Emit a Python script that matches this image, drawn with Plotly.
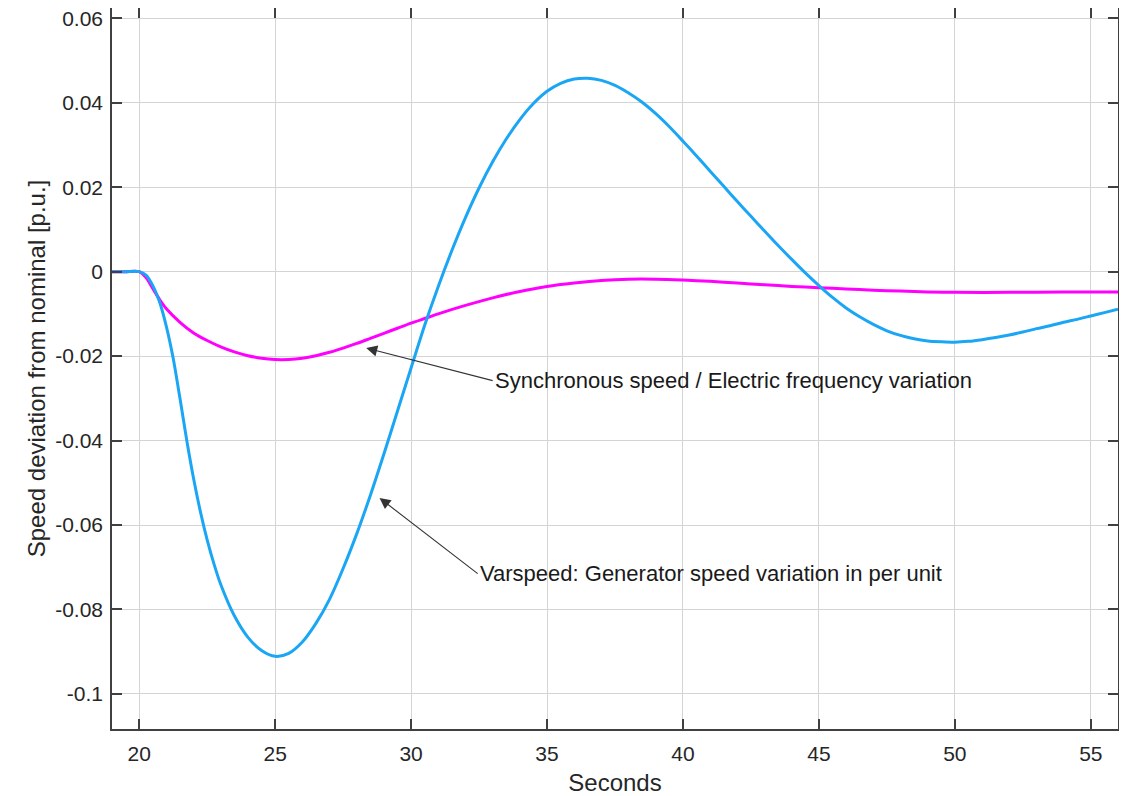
import plotly.graph_objects as go

# Varspeed: generator speed variation (p.u.)
t_gen = [19, 19.5, 20, 20.25, 20.5, 20.75, 21, 21.25, 21.5, 21.75, 22, 22.25, 22.5, 22.75,
         23, 23.5, 24, 24.5, 25, 25.5, 26, 26.5, 27, 27.5, 28, 28.5, 29, 29.5, 30, 30.5,
         31, 31.5, 32, 32.5, 33, 33.5, 34, 34.5, 35, 35.5, 36, 36.5, 37, 37.5, 38, 38.5,
         39, 39.5, 40, 40.5, 41, 41.5, 42, 42.5, 43, 43.5, 44, 44.5, 45, 45.5, 46, 46.5,
         47, 47.5, 48, 48.5, 49, 49.5, 50, 50.5, 51, 51.5, 52, 52.5, 53, 53.5, 54, 54.5,
         55, 55.5, 56]
v_gen = [0, 0, 0, -0.0008, -0.0033, -0.0072, -0.0130, -0.0205, -0.0300, -0.0400, -0.0490,
         -0.0568, -0.0635, -0.0692, -0.0741, -0.0815, -0.0866, -0.0897, -0.0911, -0.0904,
         -0.0877, -0.0833, -0.0776, -0.0703, -0.0621, -0.0530, -0.0432, -0.0330, -0.0228,
         -0.0127, -0.0035, 0.0050, 0.0128, 0.0198, 0.0260, 0.0314, 0.0360, 0.0398, 0.0427,
         0.0446, 0.0456, 0.0458, 0.0453, 0.0441, 0.0423, 0.0401, 0.0374, 0.0343, 0.0309,
         0.0274, 0.0238, 0.0202, 0.0166, 0.0131, 0.0096, 0.0062, 0.0029, -0.0003, -0.0033,
         -0.0061, -0.0086, -0.0107, -0.0125, -0.0140, -0.0151, -0.0159, -0.0164, -0.0166,
         -0.0167, -0.0165, -0.0161, -0.0156, -0.0150, -0.0143, -0.0135, -0.0128, -0.0120,
         -0.0113, -0.0105, -0.0097, -0.0089]

# Synchronous speed / electric frequency variation (p.u.)
t_sync = [19, 19.5, 20, 20.25, 20.5, 20.75, 21, 21.5, 22, 22.5, 23, 23.5, 24, 24.5, 25, 25.5,
          26, 26.5, 27, 27.5, 28, 28.5, 29, 29.5, 30, 30.5, 31, 32, 33, 34, 35, 36, 37, 38,
          39, 40, 41, 42, 43, 44, 45, 46, 47, 48, 49, 50, 52, 54, 56]
v_sync = [0, 0, 0, -0.0014, -0.0040, -0.0066, -0.0088, -0.0120, -0.0145, -0.0163, -0.0178,
          -0.0190, -0.0199, -0.0205, -0.0208, -0.0208, -0.0205, -0.0199, -0.0191, -0.0181,
          -0.0170, -0.0158, -0.0146, -0.0134, -0.0122, -0.0111, -0.0100, -0.0080, -0.0062,
          -0.0047, -0.0035, -0.0027, -0.0021, -0.0018, -0.0018, -0.0020, -0.0023, -0.0027,
          -0.0031, -0.0035, -0.0038, -0.0041, -0.0044, -0.0046, -0.0048, -0.0049, -0.0049,
          -0.0048, -0.0048]

x_ticks = [20, 25, 30, 35, 40, 45, 50, 55]
y_ticks = [0.06, 0.04, 0.02, 0, -0.02, -0.04, -0.06, -0.08, -0.1]
y_tick_text = ["0.06", "0.04", "0.02", "0", "-0.02", "-0.04", "-0.06", "-0.08", "-0.1"]

label_sync = "Synchronous speed / Electric frequency variation"
label_gen = "Varspeed: Generator speed variation in per unit"

FONT = "Liberation Sans, Arial, Helvetica, sans-serif"
AX = "#404040"
TXT = "#262626"

fig = go.Figure()
fig.add_trace(go.Scatter(x=t_sync, y=v_sync, mode="lines",
                         line=dict(color="#ff00ff", width=3, shape="spline", smoothing=0.8),
                         showlegend=False))
fig.add_trace(go.Scatter(x=t_gen, y=v_gen, mode="lines",
                         line=dict(color="#1ba6f5", width=3, shape="spline", smoothing=0.8),
                         showlegend=False))

common_axis = dict(showline=True, linecolor=AX, linewidth=1.5, mirror="allticks",
                   ticks="inside", ticklen=10, tickwidth=1.5, tickcolor=AX,
                   showgrid=True, gridcolor="#d4d4d4", gridwidth=1, zeroline=False,
                   automargin=False, ticklabeloverflow="allow",
                   tickfont=dict(family=FONT, size=21, color=TXT))

fig.update_xaxes(range=[19, 56], tickvals=x_ticks,
                 title=dict(text="Seconds", font=dict(family=FONT, size=24, color=TXT),
                            standoff=10),
                 ticklabelstandoff=5, **common_axis)
fig.update_yaxes(range=[-0.1083, 0.06243], tickvals=y_ticks, ticktext=y_tick_text,
                 title=dict(text="Speed deviation from nominal [p.u.]",
                            font=dict(family=FONT, size=24, color=TXT), standoff=3),
                 ticklabelstandoff=3, **common_axis)

fig.add_annotation(x=28.35, y=-0.0181, ax=33.0, ay=-0.0258, axref="x", ayref="y",
                   text=label_sync, xanchor="left", showarrow=True,
                   arrowhead=2, arrowsize=2, arrowwidth=1.1, arrowcolor="#333333",
                   font=dict(family=FONT, size=22, color="#1a1a1a"))
fig.add_annotation(x=28.84, y=-0.0536, ax=32.45, ay=-0.0715, axref="x", ayref="y",
                   text=label_gen, xanchor="left", showarrow=True,
                   arrowhead=2, arrowsize=2, arrowwidth=1.1, arrowcolor="#333333",
                   font=dict(family=FONT, size=22, color="#1a1a1a"))

# the page body adds an 8 px offset, so the figure is sized and margined to compensate
fig.update_layout(width=1119, height=788, margin=dict(l=104, r=9, t=0, b=67),
                  paper_bgcolor="white", plot_bgcolor="white",
                  font=dict(family=FONT, color=TXT))

fig.write_html("out.html")
